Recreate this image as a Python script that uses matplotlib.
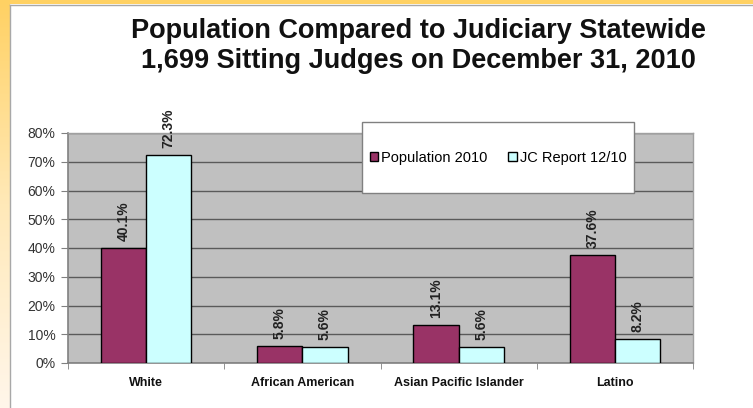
import matplotlib

matplotlib.use("Agg")

import matplotlib.pyplot as plt
import numpy as np
from matplotlib.colors import LinearSegmentedColormap
from matplotlib.patches import Rectangle
from matplotlib.ticker import FixedLocator, PercentFormatter

W, H = 753, 408

categories = ["White", "African American", "Asian Pacific Islander", "Latino"]
population_2010 = [40.1, 5.8, 13.1, 37.6]
jc_report_1210 = [72.3, 5.6, 5.6, 8.2]
series_names = ["Population 2010", "JC Report 12/10"]
y_ticks = [0, 10, 20, 30, 40, 50, 60, 70, 80]

POP_COLOR = "#993366"
JC_COLOR = "#CCFFFF"


def px(x, y):
    """Pixel position (from top-left) to figure fraction."""
    return x / W, 1 - y / H


def draw_frame(fig):
    bg = fig.add_axes([0, 0, 1, 1], zorder=-5)
    bg.set_xlim(0, W)
    bg.set_ylim(H, 0)
    bg.axis("off")
    cmap = LinearSegmentedColormap.from_list("strip", ["#FFD163", "#FFE9B8", "#FFF6EA"])
    grad = np.linspace(0, 1, 200).reshape(-1, 1)
    bg.imshow(grad, cmap=cmap, extent=(0, 10, H, 0), aspect="auto")
    bg.add_patch(Rectangle((0, 0), W, 4, facecolor="#FFD163", edgecolor="none"))
    bg.plot([10.5, 10.5], [4.5, H], color="#A8A8A8", lw=1)
    bg.plot([10.5, W], [4.5, 4.5], color="#A8A8A8", lw=1)
    bg.set_xlim(0, W)
    bg.set_ylim(H, 0)


def main():
    plt.rcParams["font.family"] = ["Liberation Sans", "DejaVu Sans"]
    fig = plt.figure(figsize=(W / 100, H / 100), dpi=100)
    draw_frame(fig)

    left, top, right, bottom = 68, 133, 693, 363
    ax = fig.add_axes([left / W, 1 - bottom / H, (right - left) / W, (bottom - top) / H])
    ax.set_facecolor("#C0C0C0")

    x = np.arange(len(categories))
    bw = 0.29
    bars_pop = ax.bar(x - bw / 2, population_2010, bw, color=POP_COLOR,
                      edgecolor="black", linewidth=1, zorder=3, label=series_names[0])
    bars_jc = ax.bar(x + bw / 2, jc_report_1210, bw, color=JC_COLOR,
                     edgecolor="black", linewidth=1, zorder=3, label=series_names[1])

    for bars, vals in ((bars_pop, population_2010), (bars_jc, jc_report_1210)):
        for b, v in zip(bars, vals):
            ax.annotate(f"{v:.1f}%", (b.get_x() + b.get_width() / 2, v),
                        xytext=(0, 5), textcoords="offset points", rotation=90,
                        ha="center", va="bottom", fontsize=10, fontweight="bold",
                        color="#222222", zorder=4)

    ax.set_xlim(-0.5, len(categories) - 0.5)
    ax.set_ylim(0, 80)
    ax.yaxis.set_major_locator(FixedLocator(y_ticks))
    ax.yaxis.set_major_formatter(PercentFormatter(decimals=0))
    ax.grid(axis="y", color="#5A5A5A", linewidth=1, zorder=1)
    ax.set_axisbelow(True)

    ax.set_xticks(x)
    ax.set_xticklabels(categories, fontsize=9, fontweight="bold", color="#111111")
    ax.set_xticks(np.arange(len(categories) + 1) - 0.5, minor=True)
    ax.tick_params(axis="x", which="major", length=0, pad=10)
    ax.tick_params(axis="x", which="minor", length=4, color="#808080", direction="out")
    ax.tick_params(axis="y", length=5, color="#808080", labelsize=10,
                   labelcolor="#333333", pad=4)

    for side in ("left", "bottom"):
        ax.spines[side].set_color("#808080")
        ax.spines[side].set_linewidth(1.2)
    for side in ("top", "right"):
        ax.spines[side].set_color("#A0A0A0")
        ax.spines[side].set_linewidth(1)

    # legend box overlapping the top of the plot area
    lx0, ly0, lx1, ly1 = 362, 122, 634, 193
    bx, by = px(lx0, ly1)
    fig.patches.append(Rectangle((bx, by), (lx1 - lx0) / W, (ly1 - ly0) / H,
                                 transform=fig.transFigure, facecolor="white",
                                 edgecolor="#808080", linewidth=1, zorder=5))
    cx, cy = px((lx0 + lx1) / 2, 158)
    leg = fig.legend(handles=[bars_pop, bars_jc], loc="center", bbox_to_anchor=(cx, cy),
                     ncol=2, frameon=False, fontsize=10.5, handlelength=0.6,
                     handleheight=0.6, handletextpad=0.2, columnspacing=1.4)
    leg.set_zorder(6)

    tx, ty = px(418, 31)
    fig.text(tx, ty, "Population Compared to Judiciary Statewide",
             ha="center", va="center", fontsize=19.5, fontweight="bold", color="#111111")
    tx, ty = px(418, 61)
    fig.text(tx, ty, "1,699 Sitting Judges on December 31, 2010",
             ha="center", va="center", fontsize=19.5, fontweight="bold", color="#111111")

    fig.savefig("out.png", dpi=100)


if __name__ == "__main__":
    main()
